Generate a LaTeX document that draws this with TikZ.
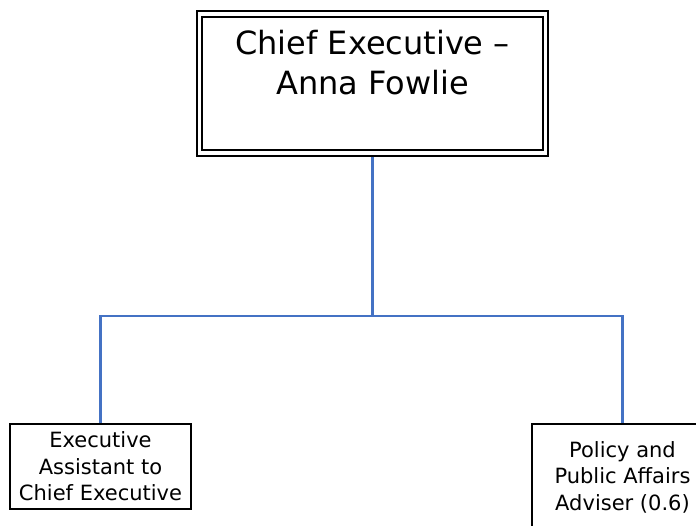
\documentclass[tikz,border=0pt]{standalone}
\usepackage{fontspec}
\setmainfont{DejaVu Sans}
\usetikzlibrary{calc}
\definecolor{linkblue}{RGB}{68,114,196}
\tikzstyle{headbox}=[rectangle,draw,double,line width=2pt,double distance=3.3pt,fill=white,minimum width=346pt,inner sep=0pt,outer sep=3.65pt,align=center,font=\fontsize{32}{40}\selectfont,text height=80.7pt,text depth=58.3pt]
\tikzstyle{staffbox}=[rectangle,draw,line width=2pt,fill=white,minimum width=181pt,minimum height=84.5pt,inner sep=0pt,align=center,font=\fontsize{21}{26.5}\selectfont]
\tikzstyle{link} = [draw,line width=2.2pt,linkblue]
\begin{document}
\begin{tikzpicture}[x=1pt,y=-1pt]

   \useasboundingbox (0,0) rectangle (696,526);

%Head
   \node[headbox] (ceo) at (372.5,83.5) {Chief Executive --\\Anna Fowlie};

%Staff
    \foreach \pos/\name/\boxh/\role in {{(100.5,466.25)/ea/84.5/{Executive\\Assistant to\\Chief Executive}}, {(622.5,477)/ppa/106/{Policy and\\Public Affairs\\Adviser (0.6)}}}
    	\node[staffbox,minimum height=\boxh pt] (\name) at \pos {\role};

%Links
   \coordinate (bus) at (372.5,316);
   \path[link] (ceo.south) -- (bus);
   \path[link] (ea.north) |- (bus) -| (ppa.north);

\end{tikzpicture}
\end{document}
